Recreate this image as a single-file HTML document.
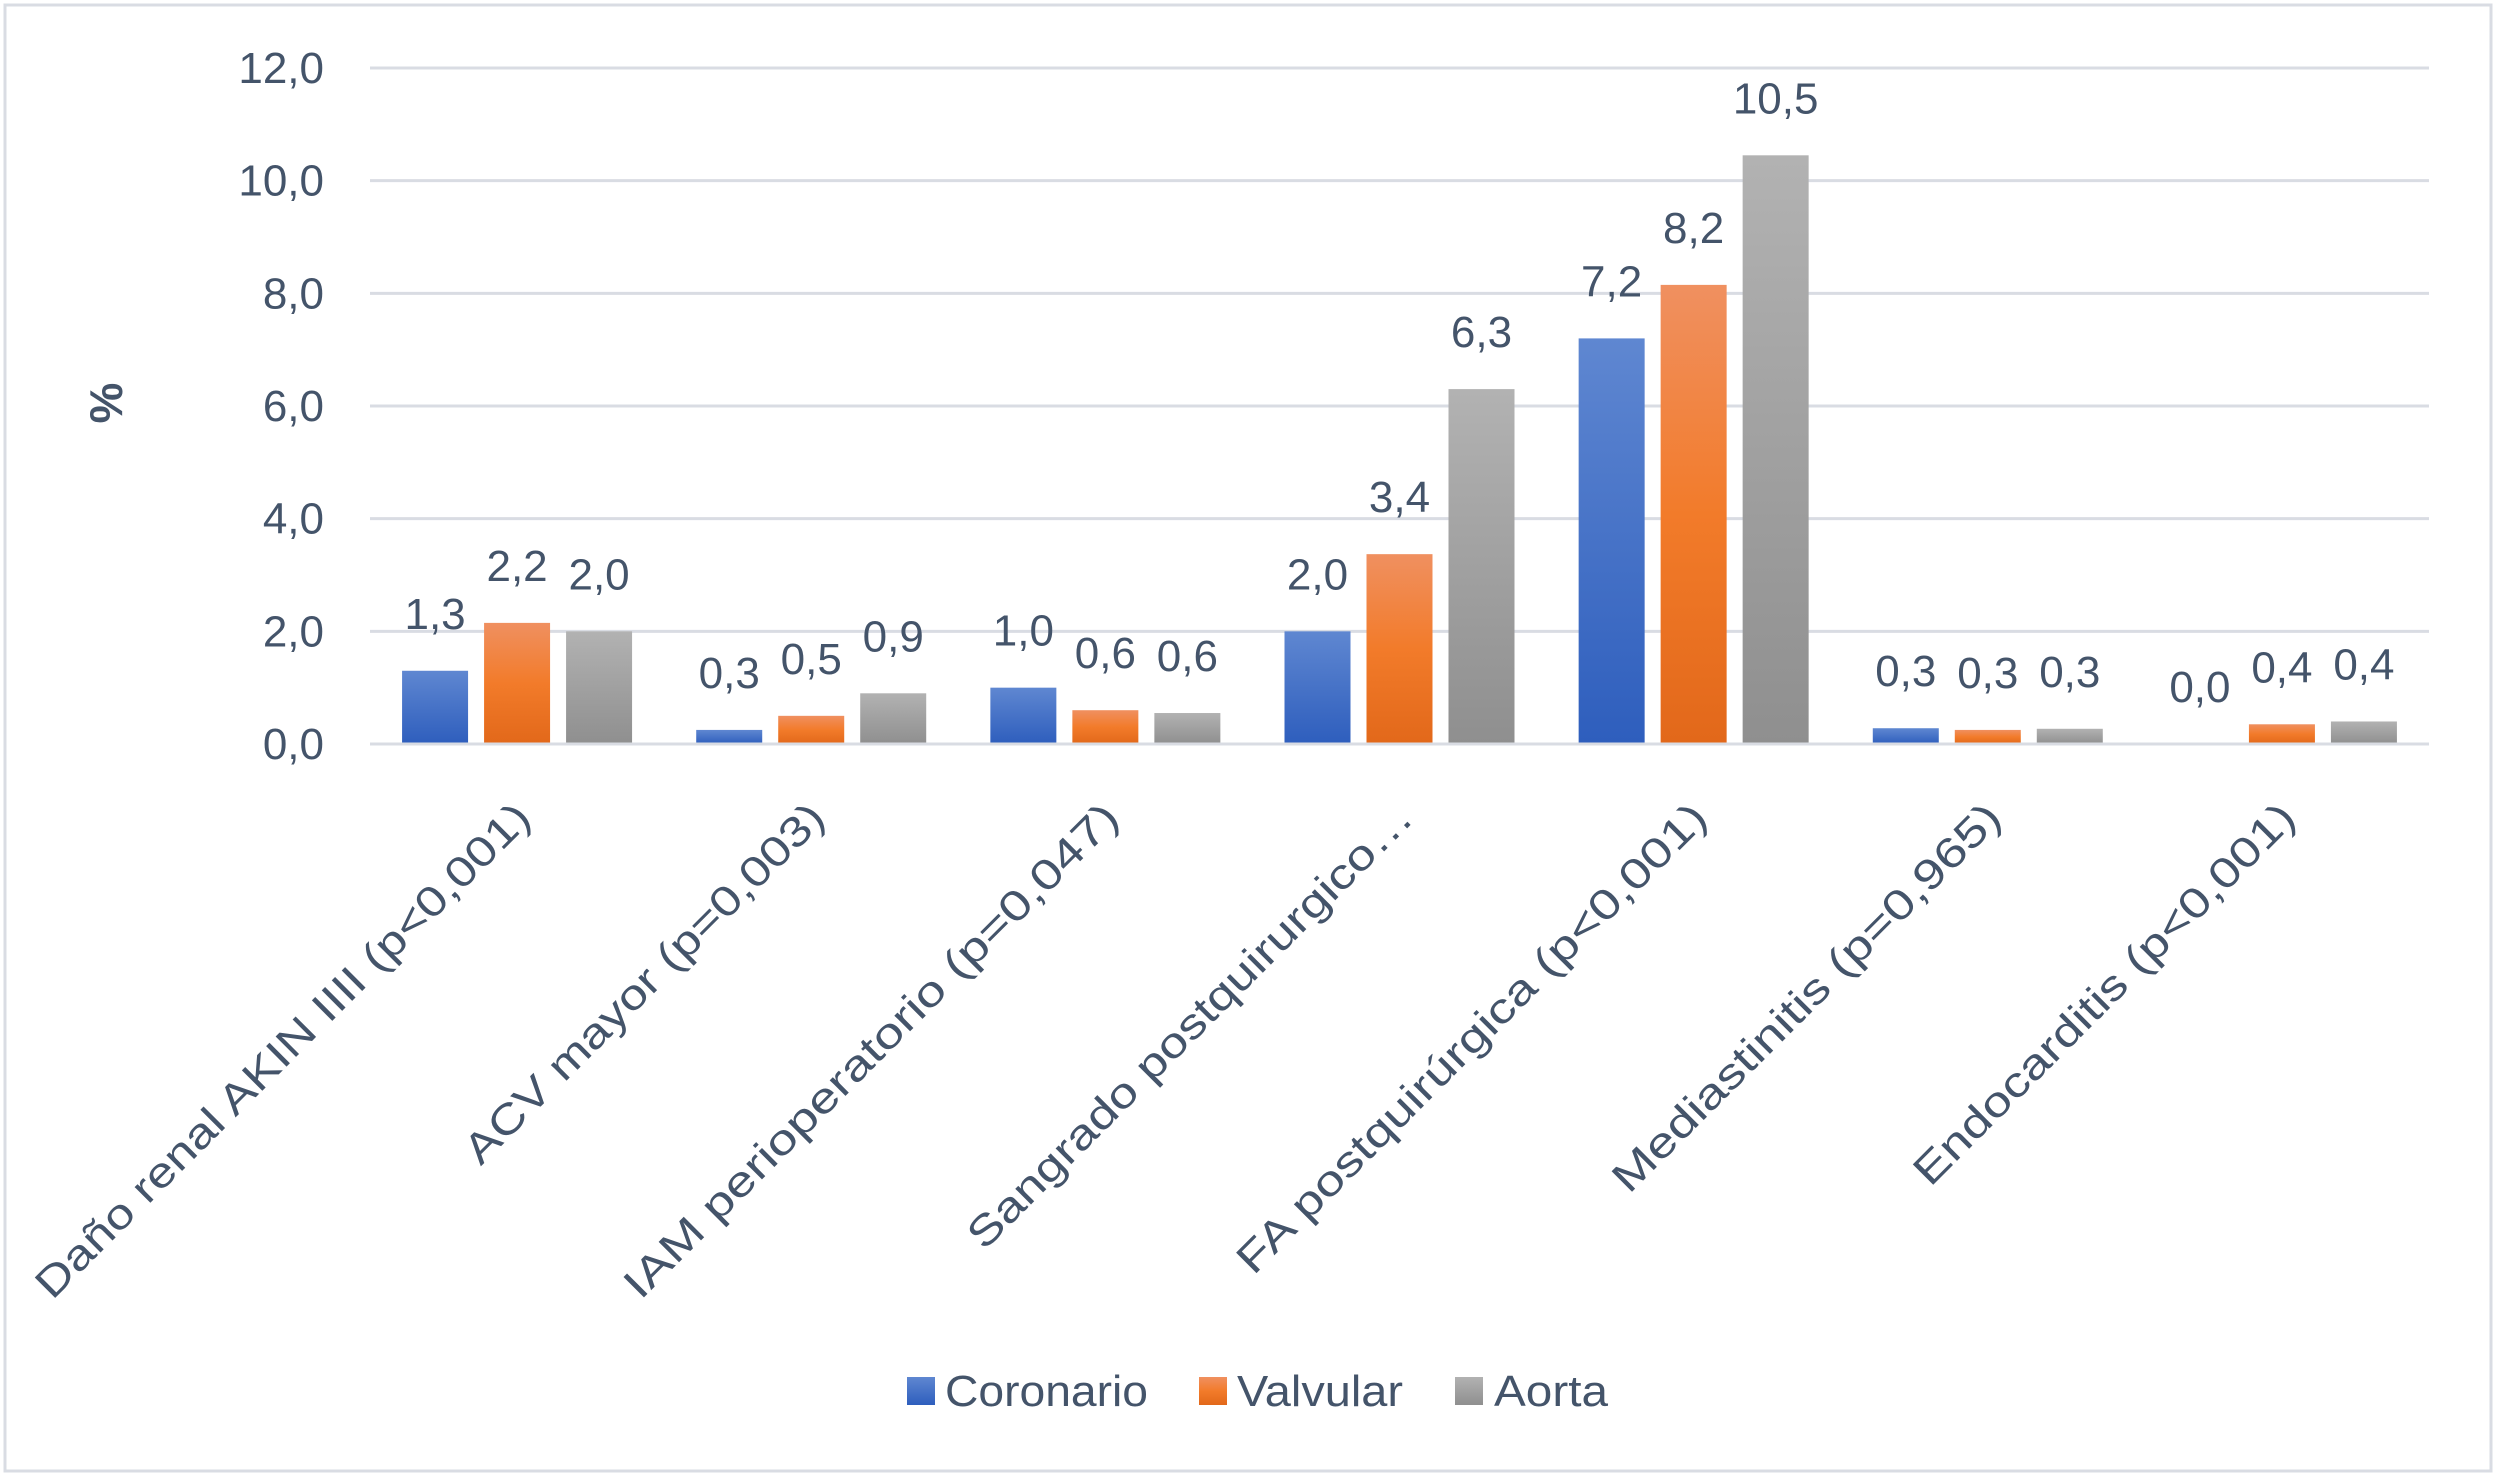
<!DOCTYPE html>
<html><head><meta charset="utf-8"><style>
html,body{margin:0;padding:0;background:#fff;}
svg{display:block;font-family:"Liberation Sans",sans-serif;}
</style></head><body>
<svg id="chart" width="2500" height="1480" viewBox="0 0 2500 1480" xmlns="http://www.w3.org/2000/svg">
<defs>
<linearGradient id="gB" x1="0" y1="0" x2="0" y2="1"><stop offset="0" stop-color="#5f87d1"/><stop offset="1" stop-color="#2e5ebd"/></linearGradient>
<linearGradient id="gO" x1="0" y1="0" x2="0" y2="1"><stop offset="0" stop-color="#f09060"/><stop offset="0.5" stop-color="#f27b2a"/><stop offset="1" stop-color="#e2681a"/></linearGradient>
<linearGradient id="gG" x1="0" y1="0" x2="0" y2="1"><stop offset="0" stop-color="#b2b2b2"/><stop offset="1" stop-color="#8f8f8f"/></linearGradient>
</defs>
<rect x="5" y="5" width="2486" height="1466" fill="#fff" stroke="#d9dce3" stroke-width="3"/>
<g id="grid"></g>
<g id="bars"></g>
<g id="labels"></g>
<text x="0" y="0" transform="translate(122,403) rotate(-90)" text-anchor="middle" font-size="46" font-weight="bold" fill="#44546a">%</text>
<g>
<rect x="907" y="1377" width="28" height="28" fill="url(#gB)"/>
<text x="945" y="1406" font-size="44" fill="#44546a" textLength="203" lengthAdjust="spacingAndGlyphs">Coronario</text>
<rect x="1199" y="1377" width="28" height="28" fill="url(#gO)"/>
<text x="1237" y="1406" font-size="44" fill="#44546a" textLength="166" lengthAdjust="spacingAndGlyphs">Valvular</text>
<rect x="1455" y="1377" width="28" height="28" fill="url(#gG)"/>
<text x="1494" y="1406" font-size="44" fill="#44546a" textLength="114" lengthAdjust="spacingAndGlyphs">Aorta</text>
</g>
</svg>
<script>
const categories = ["Daño renal AKIN IIII (p<0,001)","ACV mayor (p=0,003)","IAM perioperatorio (p=0,047)","Sangrado postquirurgico…","FA postquirúrgica (p<0,001)","Mediastinitis (p=0,965)","Endocarditis (p<0,001)"];
const coronario = [1.3,0.25,1.0,2.0,7.2,0.28,0];
const valvular = [2.15,0.5,0.6,3.37,8.15,0.25,0.35];
const aorta = [2.0,0.9,0.55,6.3,10.45,0.27,0.4];
const coronarioLabels = ["1,3","0,3","1,0","2,0","7,2","0,3","0,0"];
const valvularLabels = ["2,2","0,5","0,6","3,4","8,2","0,3","0,4"];
const aortaLabels = ["2,0","0,9","0,6","6,3","10,5","0,3","0,4"];
const yTicks = [0,2,4,6,8,10,12];
const yTickLabels = ["0,0","2,0","4,0","6,0","8,0","10,0","12,0"];
const catLabelLengths = [680,490,680,610,645,530,520];

const NS="http://www.w3.org/2000/svg";
const x0=370,x1=2429,y0=744,y12=68;
function yScale(v){return y0-(v/12)*(y0-y12);}
const band=(x1-x0)/categories.length;
function xCenter(i){return x0+band*(i+0.5);}
const barW=66,step=82;
function mk(tag,attrs,parent){const e=document.createElementNS(NS,tag);for(const k in attrs)e.setAttribute(k,attrs[k]);parent.appendChild(e);return e;}
const grid=document.getElementById('grid'),bars=document.getElementById('bars'),labels=document.getElementById('labels');
yTicks.forEach((t,i)=>{
  const l=mk('line',{x1:x0,x2:x1,y1:yScale(t),y2:yScale(t),stroke:'#d9dce3','stroke-width':3},grid);
  
  
  const tx=mk('text',{x:324,y:yScale(t)+15,'text-anchor':'end','font-size':44,fill:'#44546a'},grid);
  tx.textContent=yTickLabels[i];
  
  
});
const series=[[coronario,coronarioLabels,'url(#gB)','coronario'],[valvular,valvularLabels,'url(#gO)','valvular'],[aorta,aortaLabels,'url(#gG)','aorta']];
categories.forEach((c,i)=>{
  series.forEach((s,j)=>{
    const cx=xCenter(i)+(j-1)*step;
    const v=s[0][i];
    const top=yScale(v);
    if(v>0){
      const r=mk('rect',{x:cx-barW/2,y:top,width:barW,height:y0-top,fill:s[2]},bars);
      
      
    }
    const t=mk('text',{x:cx,y:top-42,'text-anchor':'middle','font-size':44,fill:'#44546a'},labels);
    t.textContent=s[1][i];
    
    
  });
  const ax=xCenter(i)+16, ay=820;
  const ct=mk('text',{x:0,y:0,transform:'translate('+ax+','+ay+') rotate(-45)','text-anchor':'end','font-size':42,fill:'#44546a',textLength:catLabelLengths[i],lengthAdjust:'spacingAndGlyphs'},labels);
  ct.textContent=c;
  
  
});
const ax=mk('line',{x1:x0,x2:x1,y1:y0,y2:y0,stroke:'#d9dce3','stroke-width':3},bars);


</script>
</body></html>
